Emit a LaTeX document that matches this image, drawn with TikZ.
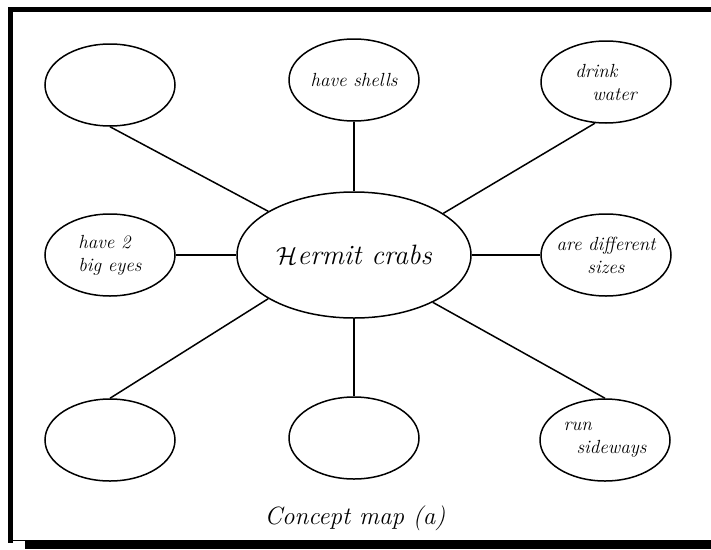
\documentclass[tikz,border=0pt]{standalone}
\usetikzlibrary{shapes.geometric}

\begin{document}
\begin{tikzpicture}[x=1pt,y=-1pt,
    bubble/.style={draw,ellipse,line width=1.5pt,minimum width=130pt,
      minimum height=82pt,inner sep=0pt,
      font=\fontsize{19}{23}\selectfont\itshape},
    link/.style={line width=1.5pt}]
  \useasboundingbox (0,0) rectangle (711,549);
  % frame with its shadow
  \fill (8,7) rectangle (711,12);
  \fill (8,7) rectangle (13,543);
  \fill (25,540) rectangle (711,549);
  \draw[line width=1pt] (13,540.5) -- (25,540.5);

  \node[bubble,minimum width=234pt,minimum height=126pt,
        font=\fontsize{28}{30}\selectfont\itshape] (crabs) at (354,255) {$\mathcal{H}$ermit crabs};

  \node[bubble] (blankA) at (110,85) {};
  \node[bubble] (shells) at (354,80) {have shells};
  \node[bubble,align=left] (water) at (606,82) {drink\\\hspace*{17pt}water};
  \node[bubble,align=left] (eyes) at (110,255) {have 2\\big eyes};
  \node[bubble,align=center,inner xsep=-8pt] (sizes) at (606,255) {are different\\sizes};
  \node[bubble] (blankB) at (110,440) {};
  \node[bubble] (blankC) at (354,438) {};
  \node[bubble,align=left] (sideways) at (605,440) {run\\\hspace*{13pt}sideways};

  \begin{scope}[every path/.style={link}]
    \draw (blankA.south) -- (crabs.153);
    \draw (shells.south) -- (crabs.north);
    \draw (water.255) -- (crabs.25);
    \draw (eyes.east) -- (crabs.west);
    \draw (sizes.west) -- (crabs.east);
    \draw (blankB.north) -- (crabs.207);
    \draw (blankC.north) -- (crabs.south);
    \draw (sideways.north) -- (crabs.-31);
  \end{scope}

  \node[font=\fontsize{25}{28}\selectfont\itshape] (caption) at (355,518) {Concept map (a)};
\end{tikzpicture}
\end{document}
